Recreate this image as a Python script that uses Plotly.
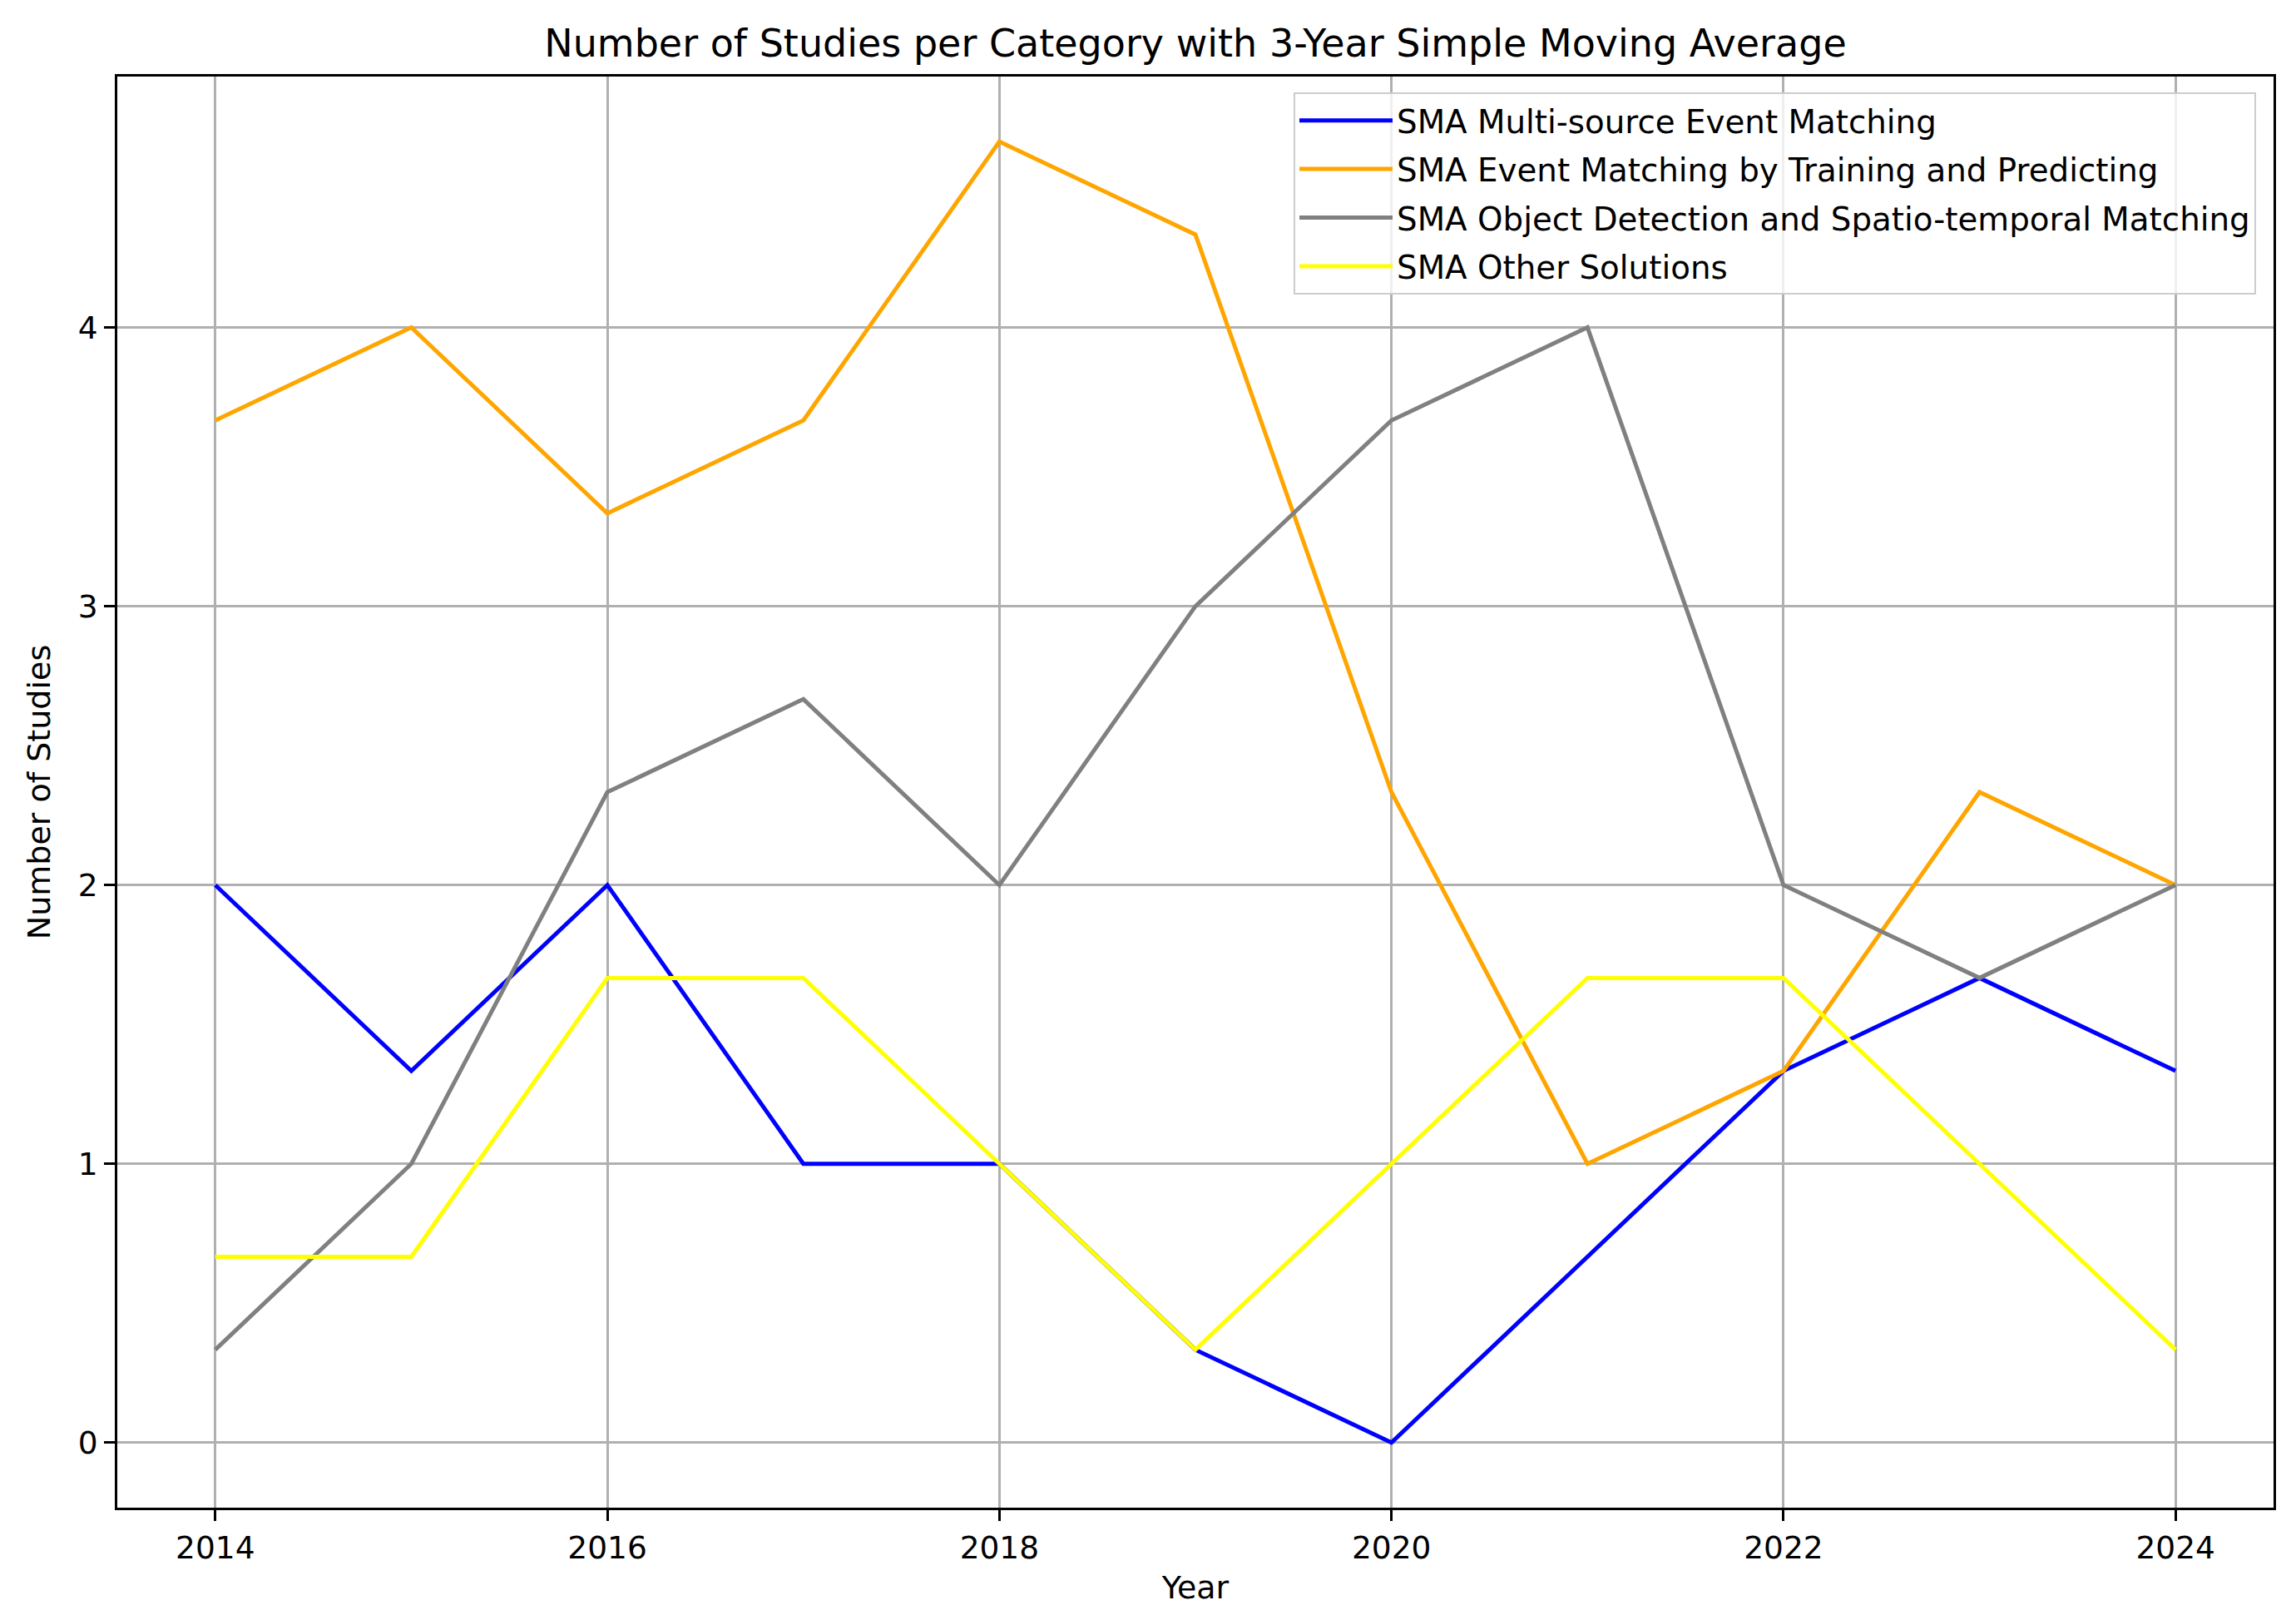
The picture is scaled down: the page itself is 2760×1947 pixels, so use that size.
import plotly.graph_objects as go

years = [2014, 2015, 2016, 2017, 2018, 2019, 2020, 2021, 2022, 2023, 2024]
multi_source = [2, 4/3, 2, 1, 1, 1/3, 0, 2/3, 4/3, 5/3, 4/3]
training_predicting = [11/3, 4, 10/3, 11/3, 14/3, 13/3, 7/3, 1, 4/3, 7/3, 2]
object_detection = [1/3, 1, 7/3, 8/3, 2, 3, 11/3, 4, 2, 5/3, 2]
other_solutions = [2/3, 2/3, 5/3, 5/3, 1, 1/3, 1, 5/3, 5/3, 1, 1/3]

series_names = [
    "SMA Multi-source Event Matching",
    "SMA Event Matching by Training and Predicting",
    "SMA Object Detection and Spatio-temporal Matching",
    "SMA Other Solutions",
]
series_values = [multi_source, training_predicting, object_detection, other_solutions]
series_colors = ["#0000ff", "#ffa500", "#808080", "#ffff00"]

x_ticks = [2014, 2016, 2018, 2020, 2022, 2024]
y_ticks = [0, 1, 2, 3, 4]

FONT = "DejaVu Sans"

# page body has an 8px margin; compensate so the plot lands where the reference has it
W, H = 2752, 1939
ML, MR, MT, MB = 133, 27, 84, 135

fig = go.Figure()
for i, (name, vals, col) in enumerate(zip(series_names, series_values, series_colors)):
    fig.add_trace(go.Scatter(
        x=years, y=vals, mode="lines", name=name,
        line=dict(color=col, width=5),
        legendgroup=f"g{i}",
    ))

axis_common = dict(
    showline=True, linecolor="black", linewidth=3, mirror=True,
    showgrid=True, gridcolor="#b0b0b0", gridwidth=2.5,
    ticks="outside", ticklen=13, tickwidth=3, tickcolor="black",
    zeroline=False,
    tickfont=dict(family=FONT, size=37.5, color="black"),
)

fig.update_layout(
    width=W, height=H,
    margin=dict(l=ML, r=MR, t=MT, b=MB),
    paper_bgcolor="white", plot_bgcolor="white",
    font=dict(family=FONT, size=38, color="black"),
    title=dict(
        text="Number of Studies per Category with 3-Year Simple Moving Average",
        x=(ML + W - MR) / 2 / W, xanchor="center",
        y=1 - 44 / H, yanchor="middle",
        font=dict(family=FONT, size=46, color="black"),
    ),
    xaxis=dict(
        axis_common,
        range=[2013.5, 2024.5], tickvals=x_ticks,
        title=dict(text="Year", font=dict(family=FONT, size=38), standoff=14),
    ),
    yaxis=dict(
        axis_common,
        range=[-0.2333, 4.9], tickvals=y_ticks,
        title=dict(text="Number of Studies", font=dict(family=FONT, size=38), standoff=22),
    ),
    legend=dict(
        x=0.9919, y=0.989, xanchor="right", yanchor="top",
        bgcolor="rgba(255,255,255,0.8)", bordercolor="#cccccc", borderwidth=2,
        font=dict(family=FONT, size=38.8, color="black"),
        traceorder="grouped", tracegroupgap=5,
        itemwidth=112,
    ),
    showlegend=True,
)

fig.write_html("out.html")
